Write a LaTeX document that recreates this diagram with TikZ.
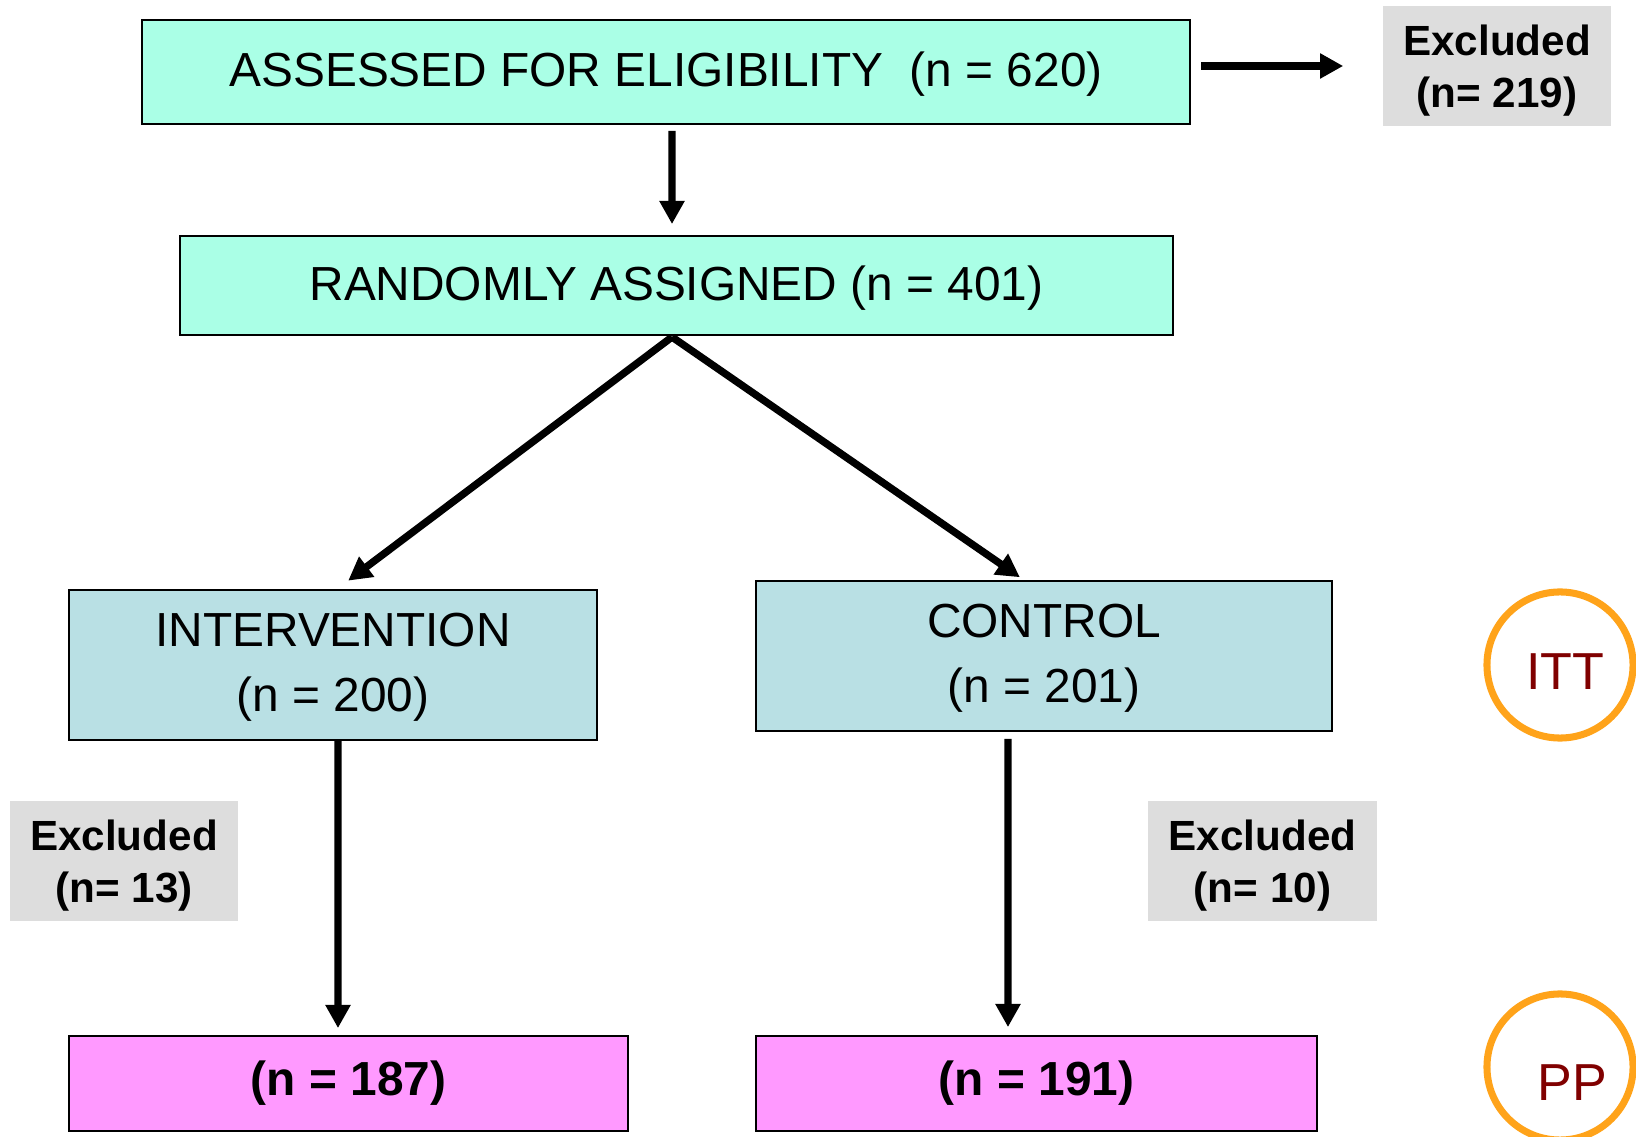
\documentclass[tikz,border=0pt]{standalone}
\usepackage{fontspec}
\setmainfont{Liberation Sans}
\usetikzlibrary{arrows.meta,positioning,calc}

\definecolor{mintfill}{RGB}{170,255,230}
\definecolor{armfill}{RGB}{185,224,228}
\definecolor{ppfill}{RGB}{255,153,255}
\definecolor{exclfill}{RGB}{221,221,221}
\definecolor{ringorange}{RGB}{255,163,26}
\definecolor{tagred}{RGB}{128,0,0}

\begin{document}
\begin{tikzpicture}[x=0.01cm, y=-0.01cm,
    topbox/.style={rectangle, draw, fill=mintfill, line width=0.5pt, text centered, inner sep=0pt, text depth=1.4pt, font=\fontsize{13.6}{18.6}\selectfont},
    armbox/.style={rectangle, draw, fill=armfill, line width=0.5pt, align=center, inner sep=0pt, text depth=1.4pt, font=\fontsize{13.6}{18.6}\selectfont},
    ppbox/.style={rectangle, draw, fill=ppfill, line width=0.5pt, text centered, inner sep=0pt, font=\bfseries\fontsize{13.6}{18.6}\selectfont},
    exclbox/.style={rectangle, fill=exclfill, align=center, inner sep=0pt, text depth=0pt, minimum width=2.28cm, minimum height=1.2cm, font=\bfseries\fontsize{12}{14.8}\selectfont},
    tag/.style={circle, draw=ringorange, line width=2pt, text=tagred, inner sep=0pt, minimum size=1.46cm, font=\fontsize{14.8}{17}\selectfont},
    line/.style={draw, line width=2.1pt, -{Triangle[length=6.6pt, width=6.8pt]}}]
    \useasboundingbox (0,0) rectangle (1636,1137);

    % Top - screening and randomisation
    \node [topbox, minimum width=10.48cm, minimum height=1.04cm] (assessed) at (666,72) {ASSESSED FOR ELIGIBILITY\ \ (n = 620)};
    \node [exclbox] (exclA) at (1497,66) {Excluded\\(n= 219)};
    \node [topbox, minimum width=9.93cm, minimum height=0.99cm] (random) at (676.5,285.5) {RANDOMLY ASSIGNED (n = 401)};

    % Middle - the two arms
    \node [armbox, minimum width=5.28cm, minimum height=1.5cm] (interv) at (333,665) {INTERVENTION\\(n = 200)};
    \node [armbox, minimum width=5.76cm, minimum height=1.5cm] (control) at (1044,656) {CONTROL\\(n = 201)};
    \node [exclbox] (exclB) at (124,861) {Excluded\\(n= 13)};
    \node [exclbox] (exclC) at (1262.5,861) {Excluded\\(n= 10)};

    % Bottom - per protocol
    \node [ppbox, minimum width=5.59cm, minimum height=0.95cm] (ppA) at (348.5,1083.5) {(n = 187)};
    \node [ppbox, minimum width=5.61cm, minimum height=0.95cm] (ppB) at (1036.5,1083.5) {(n = 191)};

    % Analysis tags (text sits a little low and right in the rings)
    \node [tag, text height=14pt] (itt) at (1560,665) {\hspace*{0.1cm}ITT};
    \node [tag, text height=19pt] (pp) at (1560,1067) {\hspace*{0.24cm}PP};

    % Flow connections
    \coordinate (split) at (672,337);
    \path [line, shorten <=0.1cm, shorten >=0.39cm] (assessed.east |- exclA.west) -- (exclA.west);
    \path [line, shorten <=0.06cm, shorten >=0.11cm] ([xshift=0.06cm]assessed.south) -- ([xshift=-0.045cm]random.north);
    \path [line, shorten >=0.14cm] (split) -- ([xshift=0.04cm]interv.north);
    \path [line, shorten >=0.05cm] (split) -- ([xshift=-0.2cm]control.north);
    \path [line, shorten >=0.07cm] ([xshift=0.05cm]interv.south) -- ([xshift=-0.105cm]ppA.north);
    \path [line, shorten <=0.07cm, shorten >=0.08cm] ([xshift=-0.36cm]control.south) -- ([xshift=-0.285cm]ppB.north);
\end{tikzpicture}
\end{document}
